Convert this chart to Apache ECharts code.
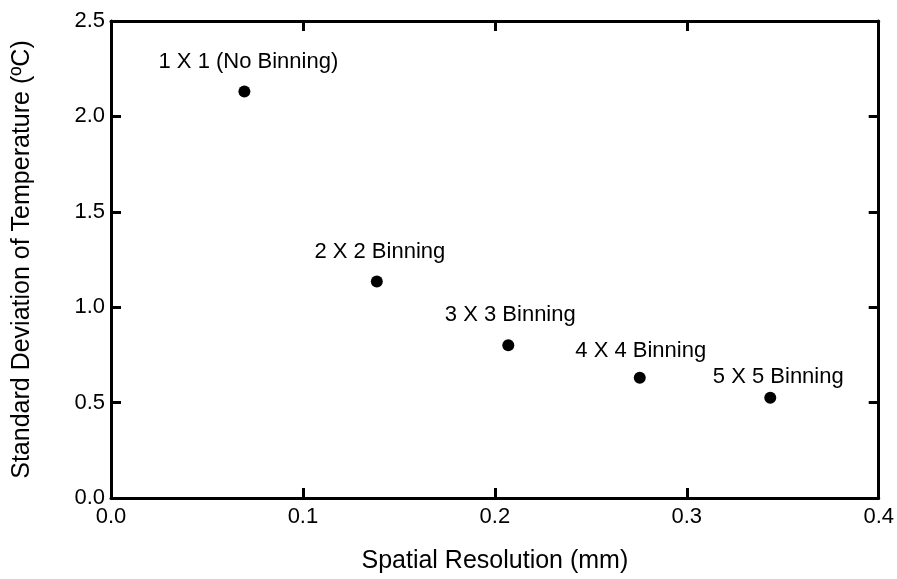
<!DOCTYPE html>
<html>
<head>
<meta charset="utf-8">
<script src="https://cdn.jsdelivr.net/npm/echarts@6/dist/echarts.min.js"></script>
<style>
  html, body { margin: 0; padding: 0; background: #fff; }
  #chart { width: 897px; height: 579px; }
</style>
</head>
<body>
<div id="chart"></div>
<script>
// Spatial resolution (mm) for each binning mode
const resolution = [0.0695, 0.1385, 0.207, 0.2755, 0.3435];
// Standard deviation of temperature (°C)
const stdDev = [2.13, 1.135, 0.80, 0.63, 0.525];
// Point annotations
const modeNames = ['1 X 1 (No Binning)', '2 X 2 Binning', '3 X 3 Binning', '4 X 4 Binning', '5 X 5 Binning'];

const xTicks = { min: 0, max: 0.4, interval: 0.1 };
const yTicks = { min: 0, max: 2.5, interval: 0.5 };

// label placement relative to each dot, in pixels [dx, dy]
const labelShift = [[4, -30], [3, -30], [2, -30], [1, -27], [8, -21]];

const FONT = "'Liberation Sans', Arial, Helvetica, sans-serif";
const INK = '#000';

const baseAxis = {
  axisLine: { show: true, onZero: false, lineStyle: { color: INK, width: 3 } },
  axisTick: { show: true, inside: true, length: 10, lineStyle: { color: INK, width: 3 } },
  splitLine: { show: false },
  axisLabel: { show: false }
};

const chart = echarts.init(document.getElementById('chart'), null, { renderer: 'canvas' });

chart.setOption({
  backgroundColor: '#fff',
  animation: false,
  grid: { left: 111, right: 18, top: 21, bottom: 80, containLabel: false },
  xAxis: [
    Object.assign({}, baseAxis, {
      type: 'value', position: 'bottom', ...xTicks,
      name: 'Spatial Resolution (mm)', nameLocation: 'middle', nameGap: 51,
      nameTextStyle: { fontFamily: FONT, fontSize: 25, color: INK },
      axisLabel: {
        show: true, margin: 8, fontFamily: FONT, fontSize: 22, color: INK,
        formatter: v => v.toFixed(1)
      }
    }),
    Object.assign({}, baseAxis, { type: 'value', position: 'top', ...xTicks })
  ],
  yAxis: [
    Object.assign({}, baseAxis, {
      type: 'value', position: 'left', ...yTicks,
      name: 'Standard Deviation of Temperature (ºC)', nameLocation: 'middle', nameGap: 76,
      nameTextStyle: { fontFamily: FONT, fontSize: 25, color: INK },
      axisLabel: {
        show: true, margin: 6, fontFamily: FONT, fontSize: 22, color: INK,
        formatter: v => v.toFixed(1)
      }
    }),
    Object.assign({}, baseAxis, { type: 'value', position: 'right', ...yTicks })
  ],
  series: [{
    type: 'scatter',
    xAxisIndex: 0,
    yAxisIndex: 0,
    symbol: 'circle',
    symbolSize: 12,
    itemStyle: { color: INK, opacity: 1 },
    data: resolution.map((x, i) => ({
      value: [x, stdDev[i]],
      label: {
        show: true,
        position: 'inside',
        offset: labelShift[i],
        formatter: modeNames[i],
        fontFamily: FONT,
        fontSize: 22,
        color: INK
      }
    }))
  }]
});
</script>
</body>
</html>
